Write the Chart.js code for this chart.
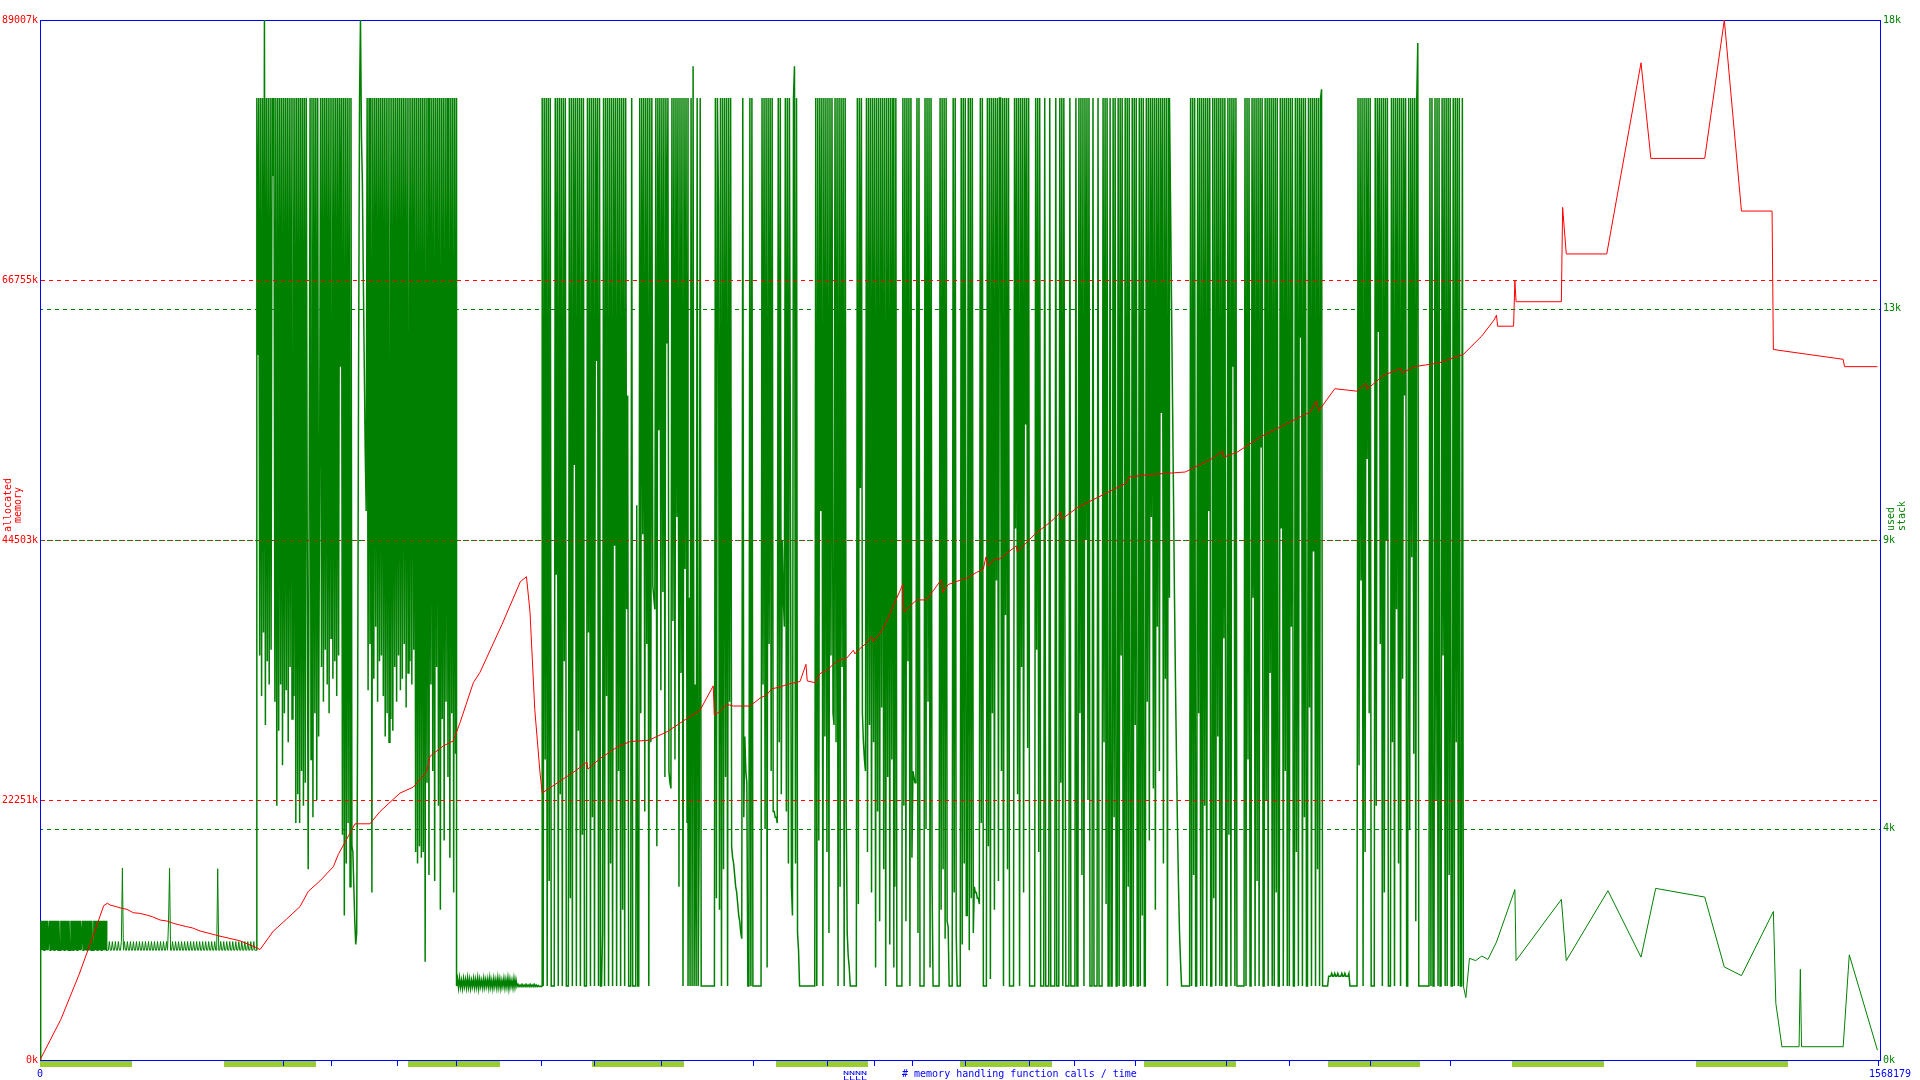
<!DOCTYPE html>
<html>
<head>
<meta charset="utf-8">
<script src="https://cdn.jsdelivr.net/npm/chart.js@4/dist/chart.umd.min.js"></script>
<style>
html,body{margin:0;padding:0;background:#ffffff;}
canvas{display:block;}
</style>
</head>
<body>
<canvas id="c" width="1920" height="1080"></canvas>
<script>
// ---------- axis / tick data ----------
const X_MAX_CALLS = 1568179;            // total memory handling calls
const xMaxK = X_MAX_CALLS / 1000;        // x values below are in thousands of calls
const memTicks = [0, 22251, 44503, 66755, 89007];     // allocated memory (k)
const memGrid = [22251, 44503, 66755];
const stackTicks = [0, 4, 9, 13, 18];                 // used stack (k)
const stackGrid = [4, 9, 13];
const timeTickK = [207.1, 248.0, 304.3, 354.5, 427.0, 472.2, 529.3, 607.7, 670.7, 710.8, 743.2, 788.3, 842.9, 881.2, 933.2, 1010.8, 1064.5, 1133.5, 1201.7, 1566.1];
const timeBandStartK = [0, 156.82, 313.64, 470.45, 627.27, 784.09, 940.91, 1097.73, 1254.54, 1411.36];
const timeBandEndK   = [78.41, 235.23, 392.05, 548.86, 705.68, 862.50, 1019.32, 1176.14, 1332.95, 1489.77];

// ---------- allocated memory (red) ----------
const memXK = [0, 17.7, 33.4, 47.0, 54.3, 57.4, 59.7, 64.0, 69.6, 74.0, 79.5, 85.0, 90.9, 96.0, 102.3, 108.0, 113.6, 119.0, 125.0, 130.0, 136.4, 153.4, 170.5, 184.9, 187.5, 198.8, 210.3, 221.6, 228.7, 238.6, 250.0, 254.2, 261.4, 268.5, 281.2, 289.8, 298.3, 306.8, 318.2, 329.6, 332.4, 343.7, 352.2, 358.0, 369.3, 375.0, 393.7, 409.4, 414.6, 417.6, 421.7, 426.0, 428.0, 440.6, 456.3, 466.0, 467.0, 477.1, 492.8, 503.2, 518.9, 534.5, 550.2, 562.5, 573.8, 574.7, 579.5, 585.2, 590.9, 605.2, 613.8, 619.3, 623.6, 630.7, 636.4, 647.7, 652.8, 653.9, 660.6, 664.8, 670.5, 676.1, 681.8, 687.5, 693.2, 694.6, 698.4, 704.6, 708.7, 710.2, 715.9, 721.6, 727.2, 733.0, 735.2, 736.4, 741.5, 747.2, 755.7, 761.3, 767.0, 768.5, 769.3, 774.1, 784.1, 789.8, 798.3, 803.9, 806.2, 808.2, 812.4, 818.2, 832.0, 833.0, 847.7, 863.4, 870.0, 871.0, 884.3, 905.1, 926.0, 928.1, 946.9, 976.1, 999.1, 1008.0, 1009.0, 1020.0, 1040.9, 1061.7, 1082.6, 1087.8, 1089.9, 1103.5, 1122.3, 1130.0, 1131.0, 1145.3, 1160.0, 1161.0, 1171.4, 1192.2, 1213.1, 1228.8, 1239.2, 1241.3, 1242.3, 1255.9, 1257.0, 1258.0, 1296.6, 1297.7, 1300.8, 1335.3, 1364.5, 1372.9, 1418.8, 1435.5, 1450.1, 1476.2, 1477.3, 1536.8, 1537.9, 1566.0];
const memK = [0, 3460, 7339, 11113, 13210, 13420, 13265, 13150, 12982, 12900, 12606, 12550, 12409, 12250, 11981, 11900, 11696, 11560, 11411, 11300, 11040, 10600, 10200, 9600, 9448, 11023, 12075, 13128, 14437, 15327, 16543, 17587, 18905, 20215, 20215, 21267, 22054, 22841, 23363, 24673, 25991, 26881, 27300, 28875, 32289, 33179, 37270, 40940, 41360, 38371, 29984, 24742, 22855, 23694, 24742, 25500, 24900, 25790, 26839, 27258, 27363, 28097, 29146, 29927, 32024, 29508, 29825, 30449, 30295, 30295, 30980, 31237, 31768, 31921, 32135, 32392, 33864, 32443, 32289, 33076, 33342, 33864, 34232, 34386, 35071, 34754, 35173, 35704, 36226, 35806, 36491, 37543, 38853, 40163, 40693, 38331, 38853, 39375, 39375, 40163, 40950, 41061, 40008, 40693, 41061, 41216, 41738, 42003, 43056, 42268, 42790, 42900, 44000, 43500, 44976, 46234, 46900, 46300, 47283, 48331, 49380, 49904, 50114, 50323, 51476, 52100, 51600, 52001, 53364, 54412, 55461, 56404, 55565, 57452, 57242, 57900, 57400, 58605, 59200, 58800, 59339, 59654, 60388, 61961, 63323, 63743, 62800, 62800, 66678, 64896, 64896, 72969, 68985, 68985, 85340, 77162, 77162, 89007, 72654, 72654, 60807, 59968, 59339, 59339];

// ---------- used stack (green), values in k ----------
const T = 16.65;   // recurring stack top level
const B = 1.28;    // recurring stack base level
const introBlock = [0,
  2.41,1.90,2.41,1.90,2.41,1.90,2.41,1.90,2.41,1.90, 2.41,1.90,1.90,2.41,1.90,2.41,1.90,2.41,1.90,2.41,
  1.90,2.41,1.90,2.41,1.90,2.41,1.90,2.41,1.90,1.90, 2.41,1.90,2.41,1.90,2.41,1.90,2.41,1.90,2.41,1.90,
  2.41,1.90,2.41,1.90,1.90,2.41,1.90,2.41,1.90,2.41, 1.90,2.41,1.90,2.41,1.90,2.41,1.90,2.41,1.90,2.41,
  1.90,1.90,2.41,1.90,2.41,1.90,2.41,1.90,2.41,1.90, 2.41,1.90,2.41,1.90,2.41,1.90,2.41,1.90,1.90,2.41,
  1.90,2.41,1.90,2.41,1.90,2.41,1.90,2.41,1.90,2.41, 1.90,2.41,1.90,2.41,1.90,2.41,1.90,2.41,1.90,1.90];
const introBand = [
  1.90,1.90,2.05,1.90,1.90,2.05,1.90,1.90,2.05,1.90,1.90,2.05,1.90,1.90,2.05,
  3.32,1.90,2.05,1.90,1.90,2.05,1.90,1.90,2.05,1.90,1.90,2.05,1.90,1.90,2.05,
  1.90,1.90,2.05,1.90,1.90,2.05,1.90,1.90,2.05,1.90,1.90,2.05,1.90,1.90,2.05,
  1.90,1.90,2.05,1.90,1.90,2.05,1.90,1.90,2.05,1.90,1.90,2.05,1.90,1.90,2.05,
  1.90,2.40,3.32,1.90,1.90,2.05,1.90,1.90,2.05,1.90,1.90,2.05,1.90,1.90,2.05,
  1.90,1.90,2.05,1.90,1.90,2.05,1.90,1.90,2.05,1.90,1.90,2.05,1.90,1.90,2.05,
  1.90,1.90,2.05,1.90,1.90,2.05,1.90,1.90,2.05,1.90,1.90,2.05,1.90,1.90,2.05,
  1.90,1.90,2.05,1.90,1.90,3.31,1.90,1.90,2.05,1.90,1.90,2.05,1.90,1.90,2.05,
  1.90,1.90,2.05,1.90,1.90,2.05,1.90,1.90,2.05,1.90,1.90,2.05,1.90,1.90,2.05,
  1.90,1.90,2.05,1.90,1.90,2.05,1.90,1.90,2.05,1.90,1.90,2.05,1.90,1.90,1.90];
const zoneA = [T,12.2,T,7.0,T,6.3,T,7.4,18.0,5.8,T,6.9,T,6.5,T,7.1,T, 15.3,T,
  6.2,T,4.4,T,5.7,T,6.5,T,5.1,T,6.0,T,6.4,T,5.5,T,6.8,T,5.9,T,6.3,T,
  4.1,T,4.6,T,4.1,T,5.0,T,4.4,T,4.8,T, 9.0,3.3,9.5,T, 5.2,T,4.2,T,6.0,T,4.5,T,5.6, 10.0,T,
  6.8,T,6.2,T,7.1,T,6.5,T,6.0,T,7.3,T,6.6,T,6.9,T,6.3,T,7.0, T,12.0,
  T,3.9,T,2.5,T,3.4,T,4.1,T,3.0,T,3.7, 3.6,3.0,2.4,2.0,2.2,6.0,12.0,T,18.0,16.0,15.2,13.5,12.0,10.5,9.5,
  T,6.4,T,7.2,T,2.9,T,6.6,T,7.5,T,6.2,T,6.9,T,7.0,T,6.3, T,5.6,T,6.0,T,5.5,T,5.9,T,5.7,
  T,6.8,T,6.2,T,7.0,T,6.4,T,6.6,T,7.2,T,6.1,T,6.7,T,6.9,T,6.5,T,7.1, T,3.6,T,3.4,T,3.7,T,3.5,T,3.6,
  T,1.7,T,4.8,T,3.2,T,6.5,T,5.0,T,3.1,T,6.8,T,4.4,T,2.6,T,5.9,T,3.8,T,6.2,T,4.9,T,3.5,T,6.0,T,2.9,T,5.3,T];
const plateau = [1.28,
  1.40,1.25,1.42,1.26,1.38,1.24,1.41,1.27,1.39,1.25, 1.42,1.26,1.40,1.24,1.38,1.27,1.41,1.25,1.39,1.26,
  1.42,1.24,1.40,1.27,1.38,1.25,1.41,1.26,1.39,1.27, 1.40,1.25,1.42,1.26,1.38,1.24,1.41,1.27,1.39,1.25,
  1.42,1.26,1.40,1.24,1.38,1.27,1.41,1.25,1.39,1.26, 1.42,1.24,1.40,1.27,1.38,1.25,1.41,1.26,1.39,1.27,
  1.31,1.27,1.30,1.27,1.31,1.27,1.30,1.27,1.31,1.27, 1.30,1.27,1.31,1.27,1.30,1.27,1.31,1.27,1.30,1.27,
  1.29,1.27,1.28,1.27,1.28];
const zoneB1 = [T,B,T,5.2,T,B,T,3.1,T,B, B,B,B, T,8.4,T,B,T,4.6,T,B,T,6.9,T, B,B,B,
  T,2.8,T,B,T,10.3,T,B,T,5.7,T,B,T,3.9,T, B,B,B, T,7.4,T,B,T,4.2,T,B,T,12.1,T,B,T, B,B,2.2,
  T,B,T,6.3,T,B,T,3.4,T,B,T,8.9,T,B,T,5.0,T,B,T,2.6,T,B,T,7.8,
  11.5,B,B,B,T,B,B,B,B,9.6,B,B,
  T,6.0,T,9.1,T,4.3,T,7.2,T,B,T,5.5,T, 8.2,8.0,7.8, T,3.7,T,10.9,T,6.4,T,8.1,T,4.9,T,12.4,T, 5.0,4.8,4.7,
  T,7.6,T,5.2,T,9.4,T,3.0,T,6.7,T,B,T,8.5,T,4.1,T];
const zoneB2 = [B,8.0,B,T,B,17.2,B,6.5,B,T,B,4.0, T, B,B,B,B,B,B,B,B,B,B,B,B,B,B,
  T,2.8, T,14.8,2.6, T,B,T,3.3, T,4.9,T,B,T,6.2,T,
  3.7,3.5,3.4,3.2,3.0,2.9,2.7,2.5,2.4,2.2,2.1, T,4.2, 5.6,5.0,4.8,B,B, T,B,T, B,B,B,B,B,B,B,B,B,
  T,6.5,T,4.0,T,1.6,T,7.2,T,5.0,T, 4.3,4.3,4.2,4.2,4.1, T,5.5,T,4.6, 9.0,8.0,7.5, T,4.3,T,3.4,T,
  10.0,3.0,2.5,T, 17.2,3.4,T, 2.2,1.9,B,B,B,B,B,B,B,B,B,B,B,B,B,B,B,B,
  T,B,T,3.8,T,9.5,T,B,T,5.6, T,3.6,T,2.2,T,7.0,T, 6.0,5.8, T,5.5,T,B,T,3.0,T,6.8,T,B,T,4.4,
  2.2,1.8,1.6,B,B,B,B,B,B,B, T,2.7,T,9.9,T, 6.0,5.5,5.2,5.0, T,3.6,T,5.8,T,2.9,T,
  5.5,T,1.6,T,4.3,T,2.4,T,6.1,T,3.3,T,B,T,4.9,T,2.0,T,5.2,T,1.6];
const zoneB3 = [T,3.0,T, B,B,B,B,B,B, T,4.4,T,2.4,T,6.9,T,B,T,3.5, 5.0,4.9,4.8,4.8, T,2.2,T, B,B,B,B,B,
  T,4.0,T,6.2,T,1.6,T,3.1, B,B,B,B,B,B,B, T,2.6,T,3.3,T,2.1,T, 2.4,2.3,B,B,B,B, T,2.9,T,2.2, B,B,B,B,
  T,2.0,T,3.4,T,2.5, 2.5, T,1.9,T,2.8,T,2.2, 3.0,2.9,2.9,2.8,2.8,2.7, T,4.1,T, B,B,B,B,
  T,3.7,T,1.4,T,6.0,T,2.6,T,8.3,T,3.1,T, T,5.0,T,B,T,7.7,T,3.3,T,B, B,B,B,B,
  T,9.2,T,4.6,T,B,T,6.8,T,2.9,T,11.0,T,5.4,T,B, B,B,B,B,B, T,7.1,T,3.6,T,B,
  B,B,B,T,B,B,B,B,T,B,B,B,B,B,T,B,B,B, T,4.8,T,B,T,8.2, B,B,B,B,T,B,B,B,B,B,T,B,B,
  T,6.0,T,3.2,T,B,T,9.0,T,4.5,T,B, B,B,T,B,B,B,B,T,B,B,B,B, T,5.5,T,2.7,T,B,
  B,T,B,B,T,4.2,T,B,B,T,B,T,7.0,T,B,B,T,B,T,3.0,T,B,B,T,B,T,5.8,T,B,B,T,B,T,2.5,T,B,B,
  T,6.2,T,3.8,T,9.4,T,4.7,T,2.6,T,7.5,T,5.0,T,11.2,T,3.4,T,6.6,T,B,T,8.0];
const zoneB4 = [T,15.0,13.2,11.5,9.8,8.0,6.5,5.2,4.0,3.0,2.2,1.7,B,B,B,B,B,B,B,B,B,
  T,B,T,3.2,T,B,B,T,6.0,T,B,T,B,T,4.4,T,B,T,9.5,T,B,B,T,2.8,T,B,T,5.6,T,B,T,B,T,7.3,T,B,B,T,3.9,T,B,T,12.0,T,B,T,B,
  B,B,B,B,B,B,B,
  T,B,T,5.2,T,B,B,T,8.0,T, B,T,3.1,T,B,T,10.6,T,B,B, T,4.5,T,B,T,6.7,T,B,T,B, T,2.9,T,B,B,T,9.2,T,B,T,
  5.0,T,B,T,B,T,7.5,T,B,B, T,3.6,T,B,T,12.5,T,B,T,4.2, T,B,B,T,6.1,T,B,T,8.8,T, B,T,3.3,T,B,T,16.8,B];
const zoneB5 = [B,B,B,B,B,B,1.45,1.45,1.45,1.50,1.45,1.45,1.50,1.45,1.45,1.50,1.45,1.45,1.45,1.50,1.45,1.45,1.50,1.45,1.45,1.45,1.50,B,B,B,B,B,B,B,B,
  T,5.1,T,8.3,T,B,T,3.6,T,10.4,T,6.0,T,B, B,B,B, T,4.4,T,12.6,T,7.2,T,B,T,2.9,T,9.0,T, B,B,B,
  T,5.5,T,B,T,7.8,T,3.4,T,B,T,6.6,T,11.5,T, B,B, T,4.0,T,8.7,T,5.3,T,2.4,T,17.6,B,B,
  B,B,B,B,B,B,B,B,B,
  T,B,T,B,B,T,4.5,T,B,T,B,B,T,7.0,T,B,T,B,T,3.2,T,B,B,T,B,T,5.5,T,B,T,B,B,T,B];
// sampled runs: start / end (k calls)
const stackRuns = [introBlock, introBand, zoneA, plateau, zoneB1, zoneB2, zoneB3, zoneB4, zoneB5];
const stackRunStartK = [0, 57.4, 184.8, 355.0, 428.0, 552.3, 727.7, 962.6, 1093.1];
const stackRunEndK   = [57.4, 184.8, 355.0, 428.0, 552.3, 727.7, 962.6, 1093.1, 1213.1];
// sparse tail
const stackTailXK = [1215.2, 1218.3, 1223.6, 1228.8, 1234.0, 1241.3, 1257.0, 1258.0, 1296.6, 1300.8, 1336.3, 1364.5, 1377.0, 1418.8, 1435.5, 1450.1, 1477.3, 1479.4, 1484.6, 1499.2, 1500.3, 1501.3, 1536.8, 1542.0, 1566.0];
const stackTailK  = [1.08, 1.76, 1.72, 1.80, 1.74, 2.04, 2.95, 1.72, 2.78, 1.72, 2.93, 1.78, 2.97, 2.82, 1.61, 1.46, 2.57, 0.98, 0.23, 0.23, 1.57, 0.23, 0.23, 1.82, 0.17];

// ---------- build datasets ----------
const memData = memXK.map((x, i) => ({ x: x, y: memK[i] }));
const stackData = [];
stackRuns.forEach((vals, r) => {
  const s = stackRunStartK[r], e = stackRunEndK[r], n = vals.length;
  vals.forEach((v, i) => stackData.push({ x: s + (e - s) * i / (n - 1), y: v }));
});
stackTailXK.forEach((x, i) => stackData.push({ x: x, y: stackTailK[i] }));
const bandStartK = stackRunStartK[1], bandEndK = stackRunEndK[1];
const denseEndK = stackRunEndK[stackRunEndK.length - 1];
const thinSegment = x => (x >= bandStartK && x < bandEndK) || x >= denseEndK;

const RED = '#ff0000', GREEN = '#008000', BLUE = '#0000ff', BAND = '#9acd32';
const FONT = '10px "DejaVu Sans Mono"';

const decor = {
  id: 'decor',
  beforeDatasetsDraw(chart) {
    const { ctx, chartArea: a } = chart;
    ctx.save();
    ctx.strokeStyle = BLUE;
    ctx.lineWidth = 1;
    ctx.strokeRect(a.left + 0.5, a.top + 0.5, a.right - a.left, a.bottom - a.top);
    ctx.restore();
  },
  afterDatasetsDraw(chart) {
    const { ctx, chartArea: a, scales } = chart;
    const xs = scales.x, ym = scales.yMem, ys = scales.yStack;
    ctx.save();
    ctx.lineWidth = 1;
    // dashed grid lines
    ctx.setLineDash([4, 4]);
    ctx.strokeStyle = RED;
    ctx.lineDashOffset = 0;
    memGrid.forEach(v => {
      const y = Math.round(ym.getPixelForValue(v)) + 0.5;
      ctx.beginPath(); ctx.moveTo(a.left + 1, y); ctx.lineTo(a.right, y); ctx.stroke();
    });
    ctx.strokeStyle = GREEN;
    ctx.lineDashOffset = 2;
    stackGrid.forEach(v => {
      const y = Math.round(ys.getPixelForValue(v)) + 0.5;
      ctx.beginPath(); ctx.moveTo(a.left + 1, y); ctx.lineTo(a.right, y); ctx.stroke();
    });
    ctx.setLineDash([]);
    // time bands below the x axis
    ctx.fillStyle = BAND;
    timeBandStartK.forEach((s, i) => {
      const x0 = Math.round(xs.getPixelForValue(s));
      const x1 = Math.round(xs.getPixelForValue(timeBandEndK[i]));
      ctx.fillRect(x0, a.bottom + 1, x1 - x0, 6);
    });
    // time ticks
    ctx.strokeStyle = BLUE;
    timeTickK.forEach(v => {
      const x = Math.round(xs.getPixelForValue(v)) + 0.5;
      ctx.beginPath(); ctx.moveTo(x, a.bottom + 1); ctx.lineTo(x, a.bottom + 6); ctx.stroke();
    });
    // x axis texts
    ctx.font = FONT;
    ctx.fillStyle = BLUE;
    ctx.textBaseline = 'alphabetic';
    ctx.textAlign = 'center';
    ctx.fillText('0', a.left, a.bottom + 17);
    ctx.textAlign = 'left';
    ctx.fillText(String(X_MAX_CALLS), a.right - 11, a.bottom + 17);
    ctx.fillText('# memory handling function calls / time', 902, a.bottom + 17);
    ctx.save();
    ctx.translate(843, a.bottom + 15);
    ctx.scale(1, 0.5);
    ctx.fillText('NNNN', 0, 0);
    ctx.restore();
    ctx.save();
    ctx.translate(843, a.bottom + 19.5);
    ctx.scale(1, 0.5);
    ctx.fillText('LLLL', 0, 0);
    ctx.restore();
    // y axis titles
    ctx.fillStyle = RED;
    ctx.save();
    ctx.translate(11, 505);
    ctx.rotate(-Math.PI / 2);
    ctx.textAlign = 'center';
    ctx.fillText('allocated', 0, 0);
    ctx.fillText('memory', 0, 10);
    ctx.restore();
    ctx.fillStyle = GREEN;
    ctx.save();
    ctx.translate(a.right + 14, 531);
    ctx.rotate(-Math.PI / 2);
    ctx.textAlign = 'left';
    ctx.fillText('used', 0, 0);
    ctx.fillText('stack', 0, 11);
    ctx.restore();
    ctx.restore();
  }
};

new Chart(document.getElementById('c'), {
  type: 'line',
  data: {
    datasets: [
      { label: 'allocated memory', data: memData, yAxisID: 'yMem', borderColor: RED, borderWidth: 1, pointRadius: 0, tension: 0, fill: false },
      { label: 'used stack', data: stackData, yAxisID: 'yStack', borderColor: GREEN, borderWidth: 1.5, pointRadius: 0, tension: 0, fill: false,
        segment: { borderWidth: c => (thinSegment(c.p0.parsed.x) ? 1 : 1.5) } }
    ]
  },
  options: {
    responsive: false,
    animation: false,
    devicePixelRatio: 1,
    events: [],
    layout: { padding: { top: 20, bottom: 20, left: 0, right: 0 } },
    plugins: { legend: { display: false }, tooltip: { enabled: false } },
    scales: {
      x: { type: 'linear', min: 0, max: xMaxK, display: false },
      yMem: {
        type: 'linear', position: 'left', min: 0, max: 89007,
        afterBuildTicks: s => { s.ticks = memTicks.map(v => ({ value: v })); },
        afterFit: s => { s.width = 40; },
        grid: { display: false, drawTicks: false },
        border: { display: false },
        ticks: { color: RED, font: { family: 'DejaVu Sans Mono', size: 10 }, padding: 2, autoSkip: false, maxRotation: 0, callback: v => v + 'k' }
      },
      yStack: {
        type: 'linear', position: 'right', min: 0, max: 18,
        afterBuildTicks: s => { s.ticks = stackTicks.map(v => ({ value: v })); },
        afterFit: s => { s.width = 40; },
        grid: { display: false, drawTicks: false },
        border: { display: false },
        ticks: { color: GREEN, font: { family: 'DejaVu Sans Mono', size: 10 }, padding: 3, autoSkip: false, maxRotation: 0, callback: v => v + 'k' }
      }
    }
  },
  plugins: [decor]
});
</script>
</body>
</html>
